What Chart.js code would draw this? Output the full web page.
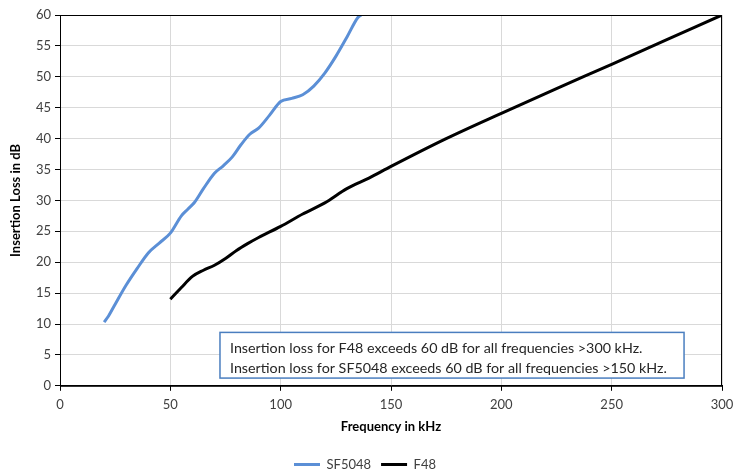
<!DOCTYPE html>
<html>
<head>
<meta charset="utf-8">
<script src="https://cdn.jsdelivr.net/npm/chart.js@4.4.1/dist/chart.umd.min.js"></script>
<style>
  html, body { margin: 0; padding: 0; background: #fff; }
</style>
</head>
<body>
<canvas id="lossChart" width="744" height="473"></canvas>
<script>
// SF5048 insertion loss (kHz, dB)
const sfFreq = [20, 22, 25, 30, 35, 40, 45, 50, 55, 58, 61, 65, 70, 74, 78, 82, 86, 90, 95, 100, 105, 110, 115, 120, 125, 130, 135, 136.5];
const sfLoss = [10.3, 11.3, 13.2, 16.3, 19.0, 21.5, 23.1, 24.7, 27.5, 28.6, 29.7, 31.9, 34.4, 35.6, 37.0, 39.0, 40.7, 41.7, 43.8, 46.0, 46.5, 47.1, 48.5, 50.6, 53.3, 56.4, 59.6, 60];

// F48 insertion loss (kHz, dB)
const fFreq = [50, 55, 60, 65, 70, 75, 80, 85, 90, 100, 110, 120, 130, 140, 150, 175, 200, 225, 250, 275, 300];
const fLoss = [14, 15.9, 17.7, 18.7, 19.5, 20.6, 21.9, 23.0, 24.0, 25.8, 27.8, 29.6, 31.9, 33.6, 35.5, 40, 44.1, 48.1, 52, 56, 60];

const noteLines = [
    'Insertion loss for F48 exceeds 60 dB for all frequencies >300 kHz.',
    'Insertion loss for SF5048 exceeds 60 dB for all frequencies >150 kHz.'
];
// note box corners in data units: [xMin, xMax, yMin, yMax]
const noteBox = [72.5, 282.8, 1.25, 8.64];

const FONT = 'Lato, Carlito, "Liberation Sans", sans-serif';

function toPoints(xs, ys) {
    return xs.map((x, i) => ({ x: x, y: ys[i] }));
}

// frame around plot area + the text note
const framePlugin = {
    id: 'frame',
    afterDatasetsDraw(chart) {
        const ctx = chart.ctx;
        const a = chart.chartArea;
        const xs = chart.scales.x, ys = chart.scales.y;
        ctx.save();
        ctx.strokeStyle = '#000';
        ctx.lineWidth = 1;
        ctx.strokeRect(a.left + 0.5, a.top + 0.5, a.right - a.left - 1, a.bottom - a.top);

        const l = xs.getPixelForValue(noteBox[0]);
        const r = xs.getPixelForValue(noteBox[1]);
        const t = ys.getPixelForValue(noteBox[3]);
        const b = ys.getPixelForValue(noteBox[2]);
        ctx.fillStyle = '#fff';
        ctx.fillRect(l, t, r - l, b - t);
        ctx.strokeStyle = '#4a7ebf';
        ctx.lineWidth = 1.5;
        ctx.strokeRect(l, t, r - l, b - t);
        ctx.fillStyle = '#262626';
        ctx.font = '14.3px ' + FONT;
        ctx.textBaseline = 'middle';
        ctx.fillText(noteLines[0], l + 10, t + 16);
        ctx.fillText(noteLines[1], l + 10, t + 36);
        ctx.restore();
    }
};

new Chart(document.getElementById('lossChart'), {
    type: 'line',
    data: {
        datasets: [{
            label: 'SF5048',
            data: toPoints(sfFreq, sfLoss),
            borderColor: '#5b8fd6',
            backgroundColor: '#5b8fd6',
            borderWidth: 3,
            pointRadius: 0,
            cubicInterpolationMode: 'monotone',
            fill: false
        }, {
            label: 'F48',
            data: toPoints(fFreq, fLoss),
            borderColor: '#000',
            backgroundColor: '#000',
            borderWidth: 3,
            pointRadius: 0,
            cubicInterpolationMode: 'monotone',
            fill: false
        }]
    },
    options: {
        responsive: false,
        animation: false,
        layout: { padding: { left: 8, right: 22, top: 15, bottom: -8 } },
        plugins: {
            tooltip: { enabled: false },
            legend: {
                position: 'bottom',
                labels: {
                    color: '#404040',
                    font: { family: FONT, size: 13 },
                    boxWidth: 26,
                    boxHeight: 3,
                    padding: 10,
                    generateLabels(chart) {
                        return Chart.defaults.plugins.legend.labels.generateLabels(chart)
                            .map(it => Object.assign(it, { lineWidth: 0 }));
                    }
                }
            }
        },
        scales: {
            x: {
                type: 'linear',
                min: 0,
                max: 300,
                ticks: { stepSize: 50, color: '#404040', font: { family: FONT, size: 13 }, padding: 6 },
                grid: { color: '#d9d9d9', tickColor: '#000', tickLength: 5 },
                border: { color: '#000' },
                title: {
                    display: true,
                    text: 'Frequency in kHz',
                    color: '#000',
                    font: { family: FONT, size: 13, weight: 'bold' },
                    padding: { top: 1, bottom: 13 }
                }
            },
            y: {
                min: 0,
                max: 60,
                ticks: { stepSize: 5, color: '#404040', font: { family: FONT, size: 13 }, padding: 4 },
                grid: { color: '#d9d9d9', tickColor: '#000', tickLength: 5 },
                border: { color: '#000' },
                title: {
                    display: true,
                    text: 'Insertion Loss in dB',
                    color: '#000',
                    font: { family: FONT, size: 13, weight: 'bold' },
                    padding: { top: 0, bottom: 6 }
                },
                afterFit(scale) { scale.width = 52; }
            }
        }
    },
    plugins: [framePlugin]
});
</script>
</body>
</html>
